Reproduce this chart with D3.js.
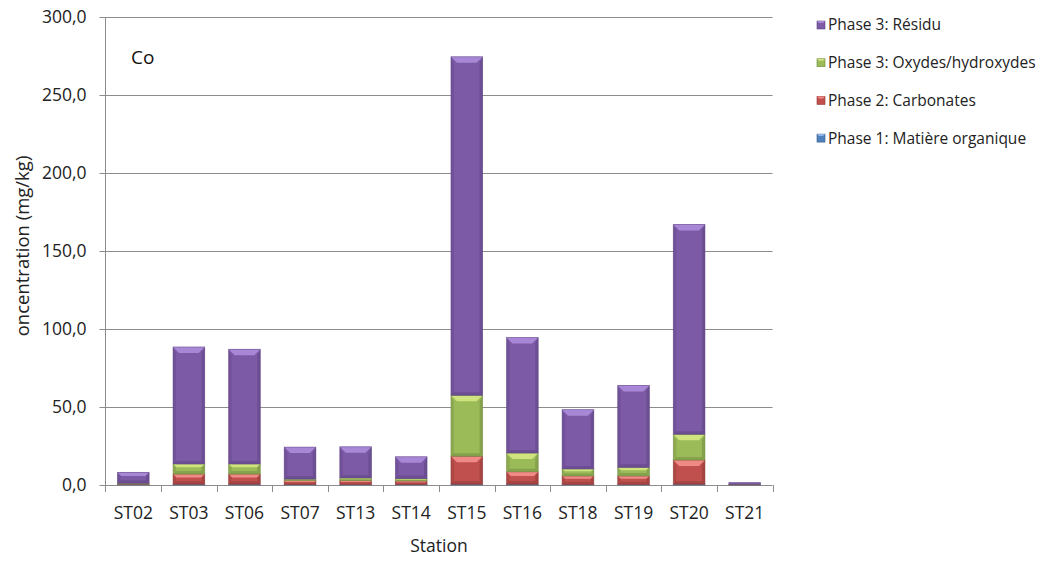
<!DOCTYPE html>
<html><head><meta charset="utf-8">
<script src="https://cdn.jsdelivr.net/npm/d3@7"></script>
<style>body{margin:0;background:#fff}svg{display:block;font-family:"Open Sans","Liberation Sans",sans-serif}</style>
</head><body><svg id="c" width="1047" height="561"></svg>
<script>
const categories = ["ST02","ST03","ST06","ST07","ST13","ST14","ST15","ST16","ST18","ST19","ST20","ST21"];
const organic    = [0.3, 0.5, 0.5, 0.3, 0.3, 0.3, 0.5, 0.5, 0.3, 0.3, 0.5, 0.1];
const carbonates = [0.3, 6.5, 6.5, 2.5, 2.5, 2.3, 18, 8, 5.5, 5.5, 15.5, 0.2];
const oxides     = [0.5, 6.5, 6.5, 1.0, 1.7, 1.5, 39, 12, 4.5, 5.5, 16.5, 0.1];
const residu     = [7.0, 75, 73.5, 20.5, 20, 14, 217, 74, 38, 52.5, 134.5, 1.2];
const seriesNames = ["Phase 1: Matière organique","Phase 2: Carbonates","Phase 3: Oxydes/hydroxydes","Phase 3: Résidu"];
const yTicks = [0,50,100,150,200,250,300];

const colors = ["#4f81bd","#c0504d","#9bbb59","#7d5aa6"];
const light  = ["#8fb4e8","#f08a86","#cfe47f","#a888d6"];
const dark   = ["#385d8a","#8c3836","#71893f","#5c4280"];

const svg = d3.select("#c");
const x = d3.scaleBand().domain(categories).range([105.5,772.5]).paddingInner(0.43).paddingOuter(0.215);
const y = d3.scaleLinear().domain([0,300]).range([485,17]);

const rows = categories.map((c,i)=>({cat:c, s0:organic[i], s1:carbonates[i], s2:oxides[i], s3:residu[i]}));
const stack = d3.stack().keys(["s0","s1","s2","s3"])(rows);

// gridlines
svg.append("g").selectAll("line").data(yTicks.slice(1)).join("line")
  .attr("x1",105.5).attr("x2",772.5).attr("y1",d=>Math.round(y(d))+0.5).attr("y2",d=>Math.round(y(d))+0.5)
  .attr("stroke","#8c8c8c").attr("stroke-width",1);

// y axis
const ya = svg.append("g").attr("transform","translate(105.5,0)");
ya.append("line").attr("y1",y(300)).attr("y2",y(0)).attr("stroke","#8c8c8c");
ya.selectAll("line.t").data(yTicks).join("line").attr("class","t")
  .attr("x1",-6).attr("x2",0).attr("y1",d=>Math.round(y(d))+0.5).attr("y2",d=>Math.round(y(d))+0.5).attr("stroke","#8c8c8c");
ya.selectAll("text").data(yTicks).join("text")
  .attr("x",-19).attr("y",d=>y(d)).attr("dy","0.35em").attr("text-anchor","end")
  .attr("font-size",17.5).attr("fill","#222").text(d=>d3.format(".1f")(d).replace(".",","));

// x axis
const xa = svg.append("g");
xa.append("line").attr("x1",105.5).attr("x2",772.5).attr("y1",485.5).attr("y2",485.5).attr("stroke","#8c8c8c");
const bounds = categories.map(c=>x(c)-x.step()*x.paddingInner()/2).concat([772.5]);
xa.selectAll("line.t").data(bounds).join("line").attr("class","t")
  .attr("x1",d=>Math.round(d)+0.5).attr("x2",d=>Math.round(d)+0.5).attr("y1",485).attr("y2",492).attr("stroke","#8c8c8c");
xa.selectAll("text").data(categories).join("text")
  .attr("x",d=>x(d)+x.bandwidth()/2).attr("y",513).attr("dy","0.35em").attr("text-anchor","middle")
  .attr("font-size",17.5).attr("fill","#222").text(d=>d);

// bars
const bw = x.bandwidth();
stack.forEach((ser,si)=>{
  const g = svg.append("g");
  ser.forEach(d=>{
    const x0 = x(d.data.cat), top = y(d[1]), bot = y(d[0]), h = bot-top;
    if (h <= 0.05) return;
    const b = Math.min(6, h/3, bw/4);
    const s = Math.min(3, b);
    g.append("rect").attr("x",x0).attr("y",top).attr("width",bw).attr("height",h).attr("fill",colors[si]);
    if (h > 2) {
      g.append("path").attr("d",`M${x0},${top}L${x0+bw},${top}L${x0+bw-b},${top+b}L${x0+b},${top+b}Z`).attr("fill",light[si]);
      g.append("path").attr("d",`M${x0},${bot}L${x0+bw},${bot}L${x0+bw-s},${bot-s}L${x0+s},${bot-s}Z`).attr("fill",dark[si]).attr("opacity",0.5);
      g.append("path").attr("d",`M${x0},${top}L${x0+s},${top+b}L${x0+s},${bot-s}L${x0},${bot}Z`).attr("fill",dark[si]).attr("opacity",0.35);
      g.append("path").attr("d",`M${x0+bw},${top}L${x0+bw-s},${top+b}L${x0+bw-s},${bot-s}L${x0+bw},${bot}Z`).attr("fill",dark[si]).attr("opacity",0.5);
    }
    g.append("rect").attr("x",x0).attr("y",top).attr("width",bw).attr("height",h)
      .attr("fill","none").attr("stroke",dark[si]).attr("stroke-opacity",0.6).attr("stroke-width",0.8);
  });
});

// title label
svg.append("text").attr("x",131).attr("y",57).attr("dy","0.35em").attr("font-size",19).attr("fill","#111").text("Co");

// axis titles
svg.append("text").attr("transform","translate(23,246) rotate(-90)").attr("dy","0.35em").attr("text-anchor","middle")
  .attr("font-size",18.5).attr("fill","#222").text("oncentration (mg/kg)");
svg.append("text").attr("x",439).attr("y",546).attr("dy","0.35em").attr("text-anchor","middle")
  .attr("font-size",17.5).attr("fill","#222").text("Station");

// legend (reverse order)
const legendOrder = [3,2,1,0];
const lg = svg.append("g");
legendOrder.forEach((si,k)=>{
  const ly = 25 + k*37.7;
  lg.append("rect").attr("x",817).attr("y",ly-4).attr("width",8).attr("height",8).attr("fill",colors[si]).attr("stroke",dark[si]).attr("stroke-width",0.6);
  lg.append("path").attr("d",`M817,${ly-4}L825,${ly-4}L823,${ly-2}L819,${ly-2}Z`).attr("fill",light[si]);
  lg.append("text").attr("x",828).attr("y",ly).attr("dy","0.35em").attr("font-size",15.5).attr("fill","#222").text(seriesNames[si]);
});
</script></body></html>
